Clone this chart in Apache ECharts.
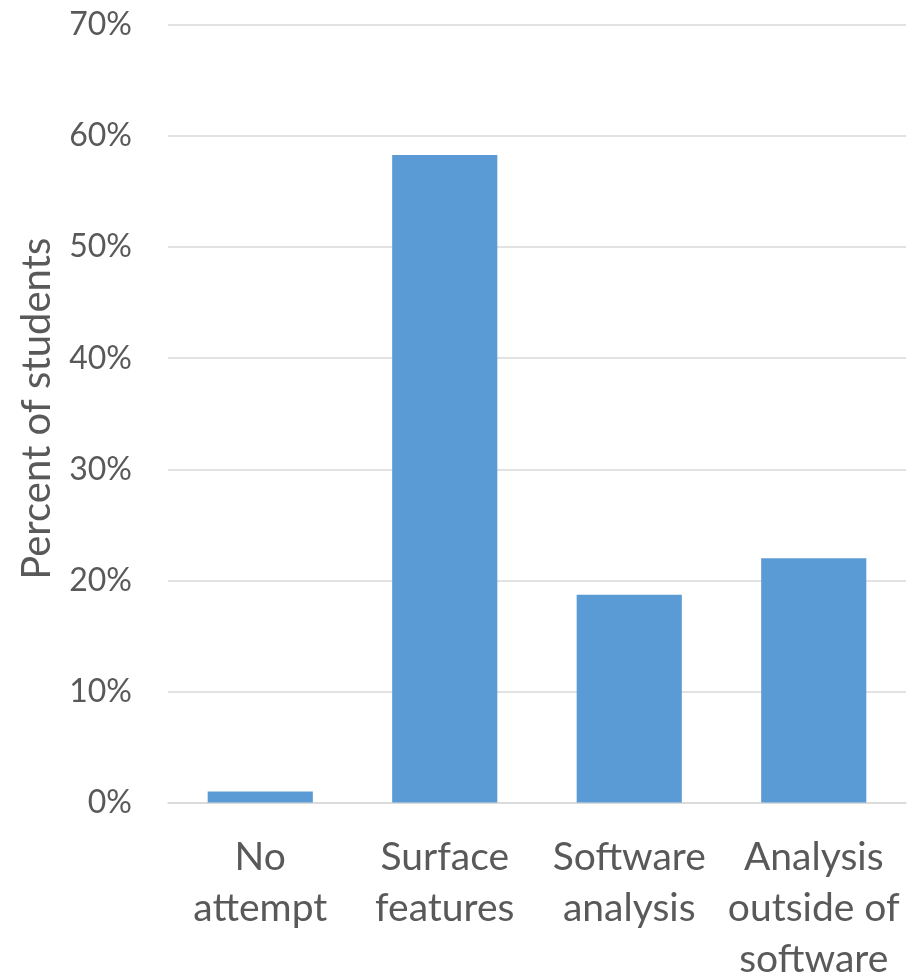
<!DOCTYPE html>
<html>
<head>
<meta charset="utf-8">
<script src="https://cdn.jsdelivr.net/npm/echarts@6/dist/echarts.min.js"></script>
<style>
  html, body { margin: 0; padding: 0; background: #ffffff; overflow: hidden; }
  #chart { width: 914px; height: 978px; }
</style>
</head>
<body>
<div id="chart"></div>
<script>
// Approaches students took, as a share of all students
const categories = ["No\nattempt", "Surface\nfeatures", "Software\nanalysis", "Analysis\noutside of\nsoftware"];
const percentStudents = [1.0, 58.3, 18.7, 22.0];
const yTicks = { min: 0, max: 70, step: 10 };
const yTitle = "Percent of students";

const textColor = "#595959";
const fontFamily = "Lato, 'Open Sans', sans-serif";

const chart = echarts.init(document.getElementById("chart"), null, { renderer: "canvas" });

chart.setOption({
  animation: false,
  backgroundColor: "#ffffff",
  grid: {
    left: 168, right: 8, top: 25, height: 777.5,
    containLabel: false,
    outerBoundsMode: "none"
  },
  xAxis: {
    type: "category",
    data: categories,
    axisLine: { show: true, lineStyle: { color: "#d9d9d9", width: 1.5 } },
    axisTick: { show: false },
    axisLabel: {
      color: textColor,
      fontFamily: fontFamily,
      fontSize: 39,
      lineHeight: 51,
      margin: 29,
      interval: 0
    }
  },
  yAxis: {
    type: "value",
    min: yTicks.min,
    max: yTicks.max,
    interval: yTicks.step,
    name: yTitle,
    nameLocation: "middle",
    nameGap: 111,
    nameRotate: 90,
    nameTextStyle: { color: textColor, fontFamily: fontFamily, fontSize: 40, padding: [0, 0, 0, 10] },
    axisLine: { show: false },
    axisTick: { show: false },
    splitLine: { show: true, lineStyle: { color: "#d9d9d9", width: 1.5 } },
    axisLabel: {
      color: textColor,
      fontFamily: fontFamily,
      fontSize: 32,
      margin: 36,
      formatter: "{value}%"
    }
  },
  series: [{
    type: "bar",
    data: percentStudents,
    barCategoryGap: "43%",
    itemStyle: { color: "#5b9bd5" }
  }]
});
</script>
</body>
</html>
